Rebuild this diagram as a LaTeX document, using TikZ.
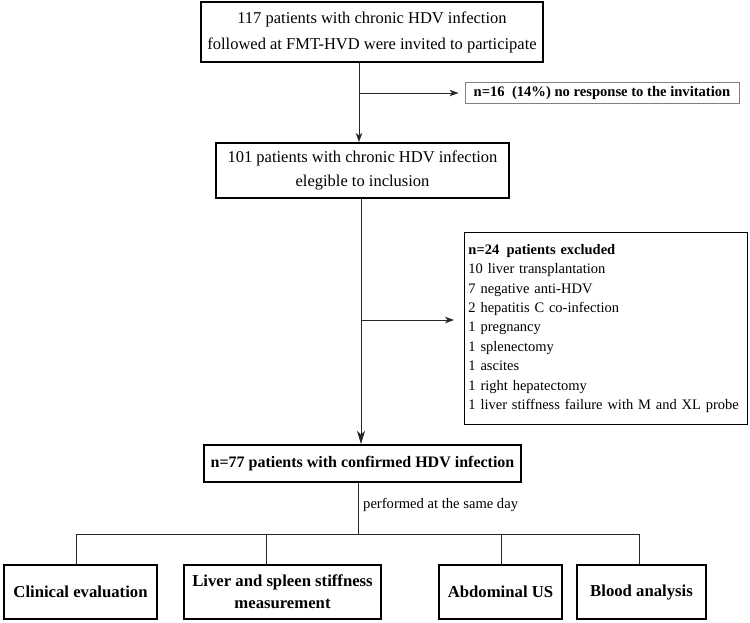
\documentclass[tikz,border=0pt]{standalone}
\usepackage{fontspec}
\setmainfont{Liberation Serif}
\usetikzlibrary{arrows.meta}
\begin{document}
\begin{tikzpicture}[x=1pt,y=-1pt,
  mainbox/.style={draw=black, line width=2pt, inner sep=0pt, align=center},
  sidebox/.style={draw=black, line width=0.9pt, inner sep=0pt},
  leafbox/.style={draw=black, line width=1.5pt, inner sep=0pt, align=center,
    minimum height=54pt, font=\bfseries\fontsize{16.7}{22}\selectfont},
  conn/.style={draw=black!85, line width=1pt},
  arr/.style={conn, -{Stealth[length=9pt,width=6.5pt,inset=2.5pt]}},
  bigarr/.style={conn, -{Stealth[length=13pt,width=8pt,inset=3.5pt]}}]
\useasboundingbox (0,0) rectangle (750,622);

% main boxes
\node[mainbox, minimum width=342pt, minimum height=60pt,
  font=\fontsize{16.5}{26}\selectfont] (b1) at (372,32)
  {117 patients with chronic HDV infection\\followed at FMT-HVD were invited to participate};
\node[mainbox, minimum width=293pt, minimum height=55pt,
  font=\fontsize{16.5}{24}\selectfont] (b2) at (362.5,170.5)
  {101 patients with chronic HDV infection\\elegible to inclusion};
\node[mainbox, minimum width=317pt, minimum height=37pt,
  font=\bfseries\fontsize{16}{20}\selectfont] (b3) at (362.5,463.5)
  {n=77 patients with confirmed HDV infection};

% side boxes
\node[sidebox, draw=black!50, minimum width=274pt, minimum height=21pt,
  font=\bfseries\fontsize{14.6}{18}\selectfont] (n16) at (602,93)
  {n=16\hspace{0.5em}(14\%) no response to the invitation};
\node[sidebox, anchor=north west, minimum height=192pt, text width=275pt,
  inner xsep=4pt, align=left, font=\fontsize{14.5}{19.4}\selectfont] (excl) at (464,232)
  {\textbf{n=24\hspace{0.5em}patients excluded}\\
   10 liver transplantation\\
   7 negative anti-HDV\\
   2 hepatitis C co-infection\\
   1 pregnancy\\
   1 splenectomy\\
   1 ascites\\
   1 right hepatectomy\\
   1 liver stiffness failure with M and XL probe};

% leaf boxes
\node[leafbox, minimum width=153pt] (cl) at (80.5,592) {Clinical evaluation};
\node[leafbox, line width=2pt, minimum width=197pt] (lv) at (282.5,592)
  {Liver and spleen stiffness\\measurement};
\node[leafbox, minimum width=123pt] (us) at (500.5,592) {Abdominal US};
\node[leafbox, minimum width=129pt] (bl) at (641.5,592) {Blood analysis};

\node[anchor=west, inner sep=0pt, font=\fontsize{14.6}{18}\selectfont] (perf) at (363,505)
  {performed at the same day};

% helper coordinates
\coordinate (v1) at (359,0);
\coordinate (v2) at (361,0);
\coordinate (v3) at (358,0);
\coordinate (br2) at (361,320);
\coordinate (hy) at (0,534);
\coordinate (d1) at (76,0);
\coordinate (d2) at (266,0);
\coordinate (d3) at (501,0);
\coordinate (d4) at (639,0);

% connectors
\draw[arr] (v1 |- b1.south) -- (v1 |- b2.north);
\draw[arr] (v1 |- n16.west) -- ([xshift=-6pt]n16.west);
\draw[bigarr] (v2 |- b2.south) -- (v2 |- b3.north);
\draw[arr] (br2) -- ([xshift=-10pt]br2 -| excl.west);

\draw[conn] (v3 |- b3.south) -- (v3 |- hy);
\draw[conn] (d1 |- hy) -- (d4 |- hy);
\draw[conn] (d1 |- hy) -- (d1 |- cl.north);
\draw[conn] (d2 |- hy) -- (d2 |- lv.north);
\draw[conn] (d3 |- hy) -- (d3 |- us.north);
\draw[conn] (d4 |- hy) -- (d4 |- bl.north);
\end{tikzpicture}
\end{document}
